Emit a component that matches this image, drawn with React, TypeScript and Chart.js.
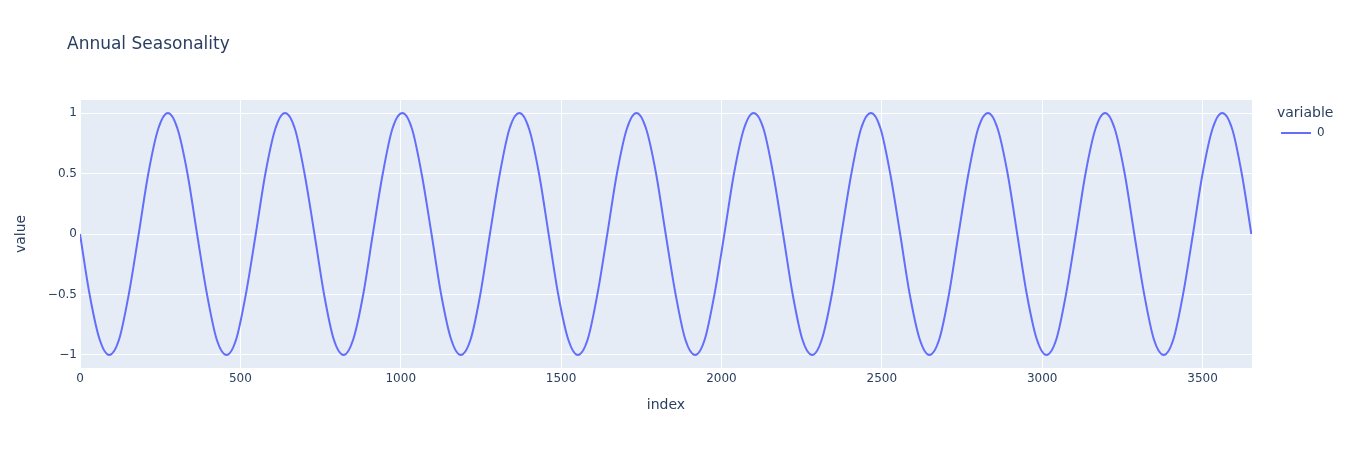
import React, { useEffect, useRef } from "react";
import { Chart, registerables } from "chart.js";

Chart.register(...registerables);

const TITLE = "Annual Seasonality";
const SERIES_NAME = "0";
const LEGEND_TITLE = "variable";
const X_TITLE = "index";
const Y_TITLE = "value";

const indexValues: number[] = [
  0, 30, 61, 91, 122, 152, 183, 213, 244, 274, 304, 335,
  365, 396, 426, 457, 487, 517, 548, 578, 609, 639, 670, 700,
  731, 761, 791, 822, 852, 883, 913, 944, 974, 1005, 1035, 1065,
  1096, 1126, 1157, 1187, 1218, 1248, 1278, 1309, 1339, 1370, 1400, 1431,
  1461, 1491, 1522, 1552, 1583, 1613, 1644, 1674, 1705, 1735, 1765, 1796,
  1826, 1857, 1887, 1918, 1948, 1978, 2009, 2039, 2070, 2100, 2131, 2161,
  2192, 2222, 2252, 2283, 2313, 2344, 2374, 2405, 2435, 2466, 2496, 2526,
  2557, 2587, 2618, 2648, 2679, 2709, 2739, 2770, 2800, 2831, 2861, 2892,
  2922, 2952, 2983, 3013, 3044, 3074, 3105, 3135, 3166, 3196, 3226, 3257,
  3287, 3318, 3348, 3379, 3409, 3439, 3470, 3500, 3531, 3561, 3592, 3622,
  3652,
];

const seriesValues: number[] = [
  0, -0.5, -0.87, -1, -0.87, -0.5, 0, 0.5, 0.87, 1, 0.87, 0.5,
  0, -0.5, -0.87, -1, -0.87, -0.5, 0, 0.5, 0.87, 1, 0.87, 0.5,
  0, -0.5, -0.87, -1, -0.87, -0.5, 0, 0.5, 0.87, 1, 0.87, 0.5,
  0, -0.5, -0.87, -1, -0.87, -0.5, 0, 0.5, 0.87, 1, 0.87, 0.5,
  0, -0.5, -0.87, -1, -0.87, -0.5, 0, 0.5, 0.87, 1, 0.87, 0.5,
  0, -0.5, -0.87, -1, -0.87, -0.5, 0, 0.5, 0.87, 1, 0.87, 0.5,
  0, -0.5, -0.87, -1, -0.87, -0.5, 0, 0.5, 0.87, 1, 0.87, 0.5,
  0, -0.5, -0.87, -1, -0.87, -0.5, 0, 0.5, 0.87, 1, 0.87, 0.5,
  0, -0.5, -0.87, -1, -0.87, -0.5, 0, 0.5, 0.87, 1, 0.87, 0.5,
  0, -0.5, -0.87, -1, -0.87, -0.5, 0, 0.5, 0.87, 1, 0.87, 0.5,
  0,
];

const xTicks: number[] = [0, 500, 1000, 1500, 2000, 2500, 3000, 3500];
const yTicks: number[] = [-1, -0.5, 0, 0.5, 1];

const FONT = "'DejaVu Sans', Verdana, sans-serif";
const TEXT = "#2a3f5f";
const LINE = "#636efa";

export default function App() {
  const ref = useRef<HTMLCanvasElement | null>(null);

  useEffect(() => {
    document.body.style.margin = "0";
    const canvas = ref.current;
    if (!canvas) return;

    const overlay = {
      id: "overlay",
      beforeDraw(chart: any) {
        const { ctx, chartArea } = chart;
        ctx.save();
        ctx.fillStyle = "#E5ECF6";
        ctx.fillRect(chartArea.left, chartArea.top, chartArea.right - chartArea.left, chartArea.bottom - chartArea.top);
        ctx.restore();
      },
      afterDraw(chart: any) {
        const { ctx, chartArea } = chart;
        ctx.save();
        ctx.fillStyle = TEXT;
        ctx.textBaseline = "middle";
        ctx.textAlign = "left";
        ctx.font = `17px ${FONT}`;
        ctx.fillText(TITLE, 67, 45);
        ctx.font = `14px ${FONT}`;
        ctx.fillText(LEGEND_TITLE, 1277, 113);
        ctx.font = `12px ${FONT}`;
        ctx.fillText(SERIES_NAME, 1317, 133);
        ctx.strokeStyle = LINE;
        ctx.lineWidth = 2;
        ctx.beginPath();
        ctx.moveTo(1281, 133);
        ctx.lineTo(1311, 133);
        ctx.stroke();
        ctx.font = `14px ${FONT}`;
        ctx.textAlign = "center";
        ctx.fillText(X_TITLE, (chartArea.left + chartArea.right) / 2, 405);
        ctx.translate(21, (chartArea.top + chartArea.bottom) / 2);
        ctx.rotate(-Math.PI / 2);
        ctx.fillText(Y_TITLE, 0, 0);
        ctx.restore();
      },
    };

    const chart = new Chart(canvas, {
      type: "line",
      data: {
        datasets: [
          {
            label: SERIES_NAME,
            data: indexValues.map((x, i) => ({ x, y: seriesValues[i] })),
            borderColor: LINE,
            borderWidth: 2,
            pointRadius: 0,
            cubicInterpolationMode: "monotone",
            fill: false,
          },
        ],
      },
      options: {
        animation: false,
        responsive: false,
        maintainAspectRatio: false,
        layout: { padding: { left: 0, right: 96, top: 100, bottom: 0 } },
        plugins: {
          legend: { display: false },
          tooltip: { enabled: false },
          title: { display: false },
        },
        scales: {
          x: {
            type: "linear",
            min: 0,
            max: 3654,
            afterBuildTicks: (axis: any) => {
              axis.ticks = xTicks.map((v) => ({ value: v }));
            },
            afterFit: (axis: any) => {
              axis.height = 82;
            },
            grid: { color: "#ffffff", lineWidth: 1, drawTicks: false },
            border: { display: false },
            ticks: {
              color: TEXT,
              font: { family: FONT, size: 12 },
              padding: 4,
              maxRotation: 0,
              autoSkip: false,
              callback: (v: any) => String(v),
            },
          },
          y: {
            type: "linear",
            min: -1.108,
            max: 1.108,
            afterBuildTicks: (axis: any) => {
              axis.ticks = yTicks.map((v) => ({ value: v }));
            },
            afterFit: (axis: any) => {
              axis.width = 80;
            },
            grid: { color: "#ffffff", lineWidth: 1, drawTicks: false },
            border: { display: false },
            ticks: {
              color: TEXT,
              font: { family: FONT, size: 12 },
              padding: 3,
              autoSkip: false,
              callback: (v: any) => String(v).replace("-", "\u2212"),
            },
          },
        },
      },
      plugins: [overlay],
    } as any);

    return () => chart.destroy();
  }, []);

  return (
    <div style={{ width: 1348, height: 450 }}>
      <canvas ref={ref} width={1348} height={450} style={{ display: "block" }} />
    </div>
  );
}
